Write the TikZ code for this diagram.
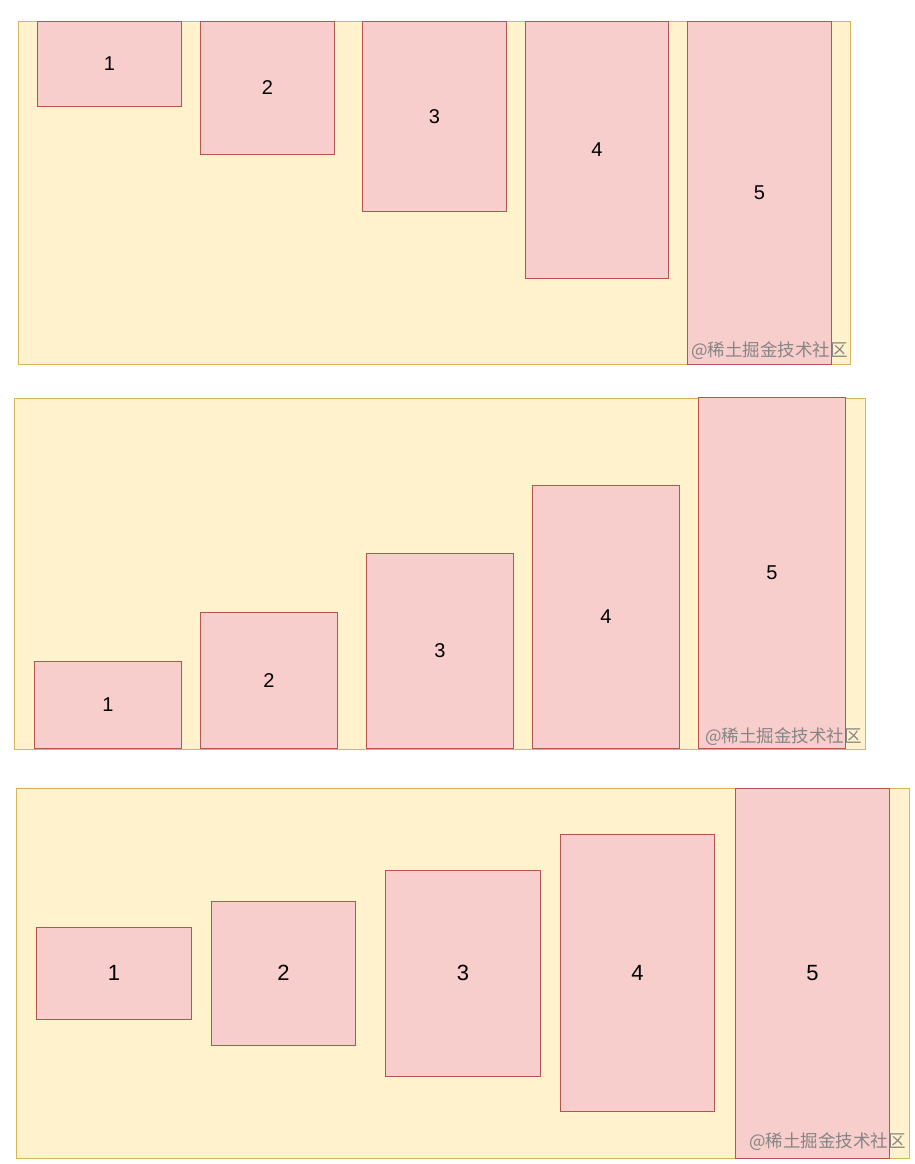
\documentclass[tikz,border=0pt]{standalone}
\usepackage{fontspec}
\setmainfont{Liberation Sans}
\newfontfamily\cjk{Noto Sans CJK SC}
\usepackage{tikz}
\usetikzlibrary{positioning}
\definecolor{panelfill}{HTML}{FFF2CC}
\definecolor{paneldraw}{HTML}{D6B656}
\definecolor{blockfill}{HTML}{F8CECC}
\definecolor{blockdraw}{HTML}{B85450}
\definecolor{markgray}{HTML}{858585}
\tikzset{
	panel/.style={rectangle,draw=paneldraw,fill=panelfill,line width=0.8pt,inner sep=0pt},
	blockbox/.style={rectangle,draw=blockdraw,fill=blockfill,line width=0.8pt,inner sep=0pt,font=\fontsize{20}{20}\selectfont},
	bigblock/.style={blockbox,font=\fontsize{22}{22}\selectfont},
	watermark/.style={text=markgray,inner sep=0pt,font=\cjk\fontsize{17.5}{17.5}\selectfont}
}
\begin{document}
\begin{tikzpicture}[x=1pt,y=-1pt]
	\useasboundingbox (0,0) rectangle (914,1164);

	% top aligned
	\node[panel,anchor=north west,minimum width=832pt,minimum height=343pt] (panelA) at (18,21) {};
	\foreach \i/\x/\w/\h in {1/37/144/85,2/200/134/133,3/362/144/190,4/525/143/257,5/687/144/343}
		\node[blockbox,anchor=north west,minimum width=\w pt,minimum height=\h pt] (topbox\i) at (\x,21) {\i};
	\node[watermark,anchor=east] (markA) at (848,351) {@稀土掘金技术社区};

	% bottom aligned
	\node[panel,anchor=north west,minimum width=851pt,minimum height=351pt] (panelB) at (14,398) {};
	\foreach \i/\x/\w/\h in {1/34/147/87,2/200/137/136,3/366/147/195,4/532/147/263,5/698/147/351}
		\node[blockbox,anchor=south west,minimum width=\w pt,minimum height=\h pt] (bottombox\i) at (\x,749) {\i};
	\node[watermark,anchor=east] (markB) at (862,737) {@稀土掘金技术社区};

	% centred
	\node[panel,anchor=north west,minimum width=893pt,minimum height=370pt] (panelC) at (16,788) {};
	\foreach \i/\x/\w/\h in {1/36/155/92,2/211/144/144,3/385/155/206,4/560/154/277,5/735/154/370}
		\node[bigblock,anchor=west,minimum width=\w pt,minimum height=\h pt] (midbox\i) at (\x,973) {\i};
	\node[watermark,anchor=east] (markC) at (906,1142) {@稀土掘金技术社区};
\end{tikzpicture}
\end{document}
